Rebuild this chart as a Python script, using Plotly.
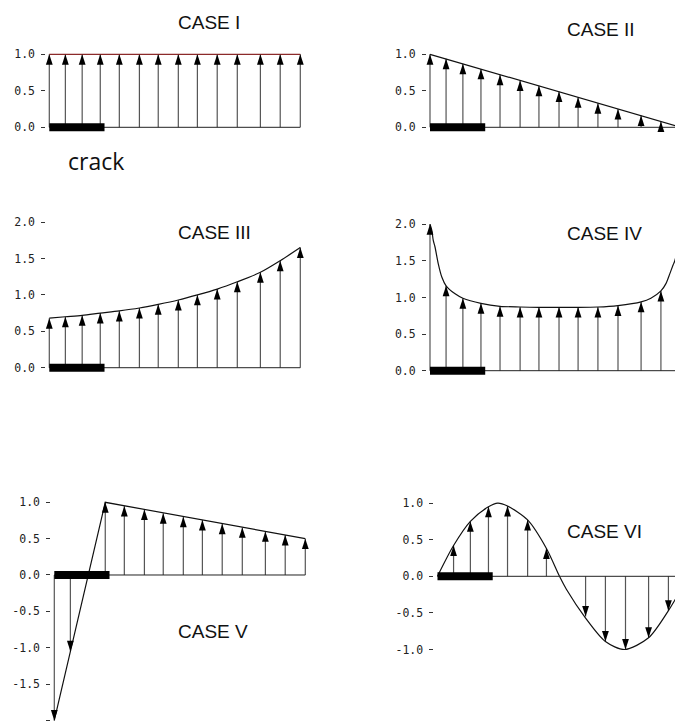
import plotly.graph_objects as go

W, H = 675, 722

# ---------------- data ----------------
# arrow stations along the crack plane (normalised distance)
x_pos = [0.0, 0.064, 0.131, 0.203, 0.279, 0.359, 0.434, 0.514, 0.590, 0.669, 0.749, 0.841, 0.920, 1.0]
crack_len = 0.22

case1_arrows = [1.0, 1.0, 1.0, 1.0, 1.0, 1.0, 1.0, 1.0, 1.0, 1.0, 1.0, 1.0, 1.0, 1.0]
case1_curve_x = [0.0, 1.0]
case1_curve_y = [1.0, 1.0]

case2_arrows = [1.0, 0.94, 0.87, 0.80, 0.72, 0.64, 0.57, 0.49, 0.41, 0.33, 0.25, 0.16, 0.08, 0.0]
case2_curve_x = [0.0, 1.0]
case2_curve_y = [1.0, 0.0]

case3_arrows = [0.68, 0.70, 0.72, 0.75, 0.78, 0.82, 0.87, 0.93, 1.00, 1.08, 1.18, 1.31, 1.47, 1.65]
case3_curve_x = x_pos
case3_curve_y = case3_arrows

case4_arrows = [2.0, 1.16, 0.99, 0.92, 0.88, 0.87, 0.87, 0.87, 0.87, 0.87, 0.89, 0.94, 1.09, 2.0]
case4_curve_x = [0.0, 0.007, 0.013, 0.02, 0.033, 0.047, 0.064, 0.1, 0.131, 0.203, 0.279, 0.359,
                 0.434, 0.514, 0.59, 0.669, 0.749, 0.841, 0.88, 0.92, 0.94, 0.956, 0.968, 0.976,
                 0.99, 1.0]
case4_curve_y = [2.0, 1.92, 1.78, 1.69, 1.46, 1.28, 1.16, 1.05, 0.99, 0.92, 0.88, 0.87,
                 0.865, 0.865, 0.865, 0.87, 0.89, 0.94, 0.99, 1.09, 1.19, 1.33, 1.44, 1.51,
                 1.75, 2.0]

case5_arrows = [-2.0, -1.05, None, 1.0, 0.95, 0.90, 0.85, 0.80, 0.755, 0.705, 0.655, 0.60, 0.55, 0.50]
case5_curve_x = [0.0, 0.203, 1.0]
case5_curve_y = [-2.0, 1.0, 0.5]

case6_arrows = [None, 0.42, 0.75, 0.95, 0.96, 0.77, 0.38, None, -0.55, -0.89, -1.0, -0.84, -0.47, None]
case6_curve_x = [0.0, 0.064, 0.131, 0.203, 0.24, 0.279, 0.359, 0.434, 0.486, 0.514, 0.59,
                 0.669, 0.745, 0.841, 0.92, 1.0]
case6_curve_y = [0.0, 0.42, 0.75, 0.95, 1.0, 0.96, 0.77, 0.38, 0.0, -0.18, -0.57,
                 -0.89, -1.0, -0.84, -0.47, 0.0]

titles = ["CASE I", "CASE II", "CASE III", "CASE IV", "CASE V", "CASE VI"]

ticks_01 = [0.0, 0.5, 1.0]
ticks_01_text = ["0.0", "0.5", "1.0"]
ticks_02 = [0.0, 0.5, 1.0, 1.5, 2.0]
ticks_02_text = ["0.0", "0.5", "1.0", "1.5", "2.0"]
ticks_5 = [-2.0, -1.5, -1.0, -0.5, 0.0, 0.5, 1.0]
ticks_5_text = ["-2.0", "-1.5", "-1.0", "-0.5", "0.0", "0.5", "1.0"]
ticks_6 = [-1.0, -0.5, 0.0, 0.5, 1.0]
ticks_6_text = ["-1.0", "-0.5", "0.0", "0.5", "1.0"]

# ---------------- layout geometry (pixels) ----------------
panels = [
    dict(x0=49.3, sx=251, xr=[-0.012, 1.012], y0=127.3, sy=73.0, yr=[-0.16, 1.12]),
    dict(x0=430.0, sx=251, xr=[-0.012, (675 - 430.0) / 251], y0=127.3, sy=73.0, yr=[-0.16, 1.12]),
    dict(x0=49.3, sx=251, xr=[-0.012, 1.012], y0=367.7, sy=72.8, yr=[-0.16, 2.12]),
    dict(x0=430.0, sx=251, xr=[-0.012, (675 - 430.0) / 251], y0=370.7, sy=73.2, yr=[-0.16, 2.12]),
    dict(x0=54.3, sx=251, xr=[-0.012, 1.012], y0=575.0, sy=72.7, yr=[-(722 - 575.0) / 72.7, 1.12]),
    dict(x0=437.5, sx=251, xr=[-0.012, (675 - 437.5) / 251], y0=576.3, sy=73.2, yr=[-1.2, 1.2]),
]

data_sets = [
    (case1_arrows, case1_curve_x, case1_curve_y, "#8c2a2a", False, ticks_01, ticks_01_text),
    (case2_arrows, case2_curve_x, case2_curve_y, "#111111", False, ticks_01, ticks_01_text),
    (case3_arrows, case3_curve_x, case3_curve_y, "#111111", True, ticks_02, ticks_02_text),
    (case4_arrows, case4_curve_x, case4_curve_y, "#111111", True, ticks_02, ticks_02_text),
    (case5_arrows, case5_curve_x, case5_curve_y, "#111111", False, ticks_5, ticks_5_text),
    (case6_arrows, case6_curve_x, case6_curve_y, "#111111", True, ticks_6, ticks_6_text),
]

fig = go.Figure()
layout_axes = {}

for i, (p, ds) in enumerate(zip(panels, data_sets)):
    n = i + 1
    xa = "x" if n == 1 else f"x{n}"
    ya = "y" if n == 1 else f"y{n}"
    arrows, cx, cy, ccol, spline, tv, tt = ds

    px_left = p["x0"] + p["sx"] * p["xr"][0]
    px_right = p["x0"] + p["sx"] * p["xr"][1]
    py_bot = p["y0"] - p["sy"] * p["yr"][0]
    py_top = p["y0"] - p["sy"] * p["yr"][1]
    xdom = [max(0.0, px_left / W), min(1.0, px_right / W)]
    ydom = [max(0.0, 1 - py_bot / H), min(1.0, 1 - py_top / H)]

    layout_axes["xaxis" if n == 1 else f"xaxis{n}"] = dict(
        domain=xdom, range=p["xr"], anchor=ya, visible=False, fixedrange=True)
    layout_axes["yaxis" if n == 1 else f"yaxis{n}"] = dict(
        domain=ydom, range=p["yr"], anchor=xa, showgrid=False, zeroline=False,
        showline=False, ticks="outside", ticklen=4, tickwidth=1, tickcolor="#333333",
        tickvals=tv, ticktext=tt, ticklabelstandoff=4,
        tickfont=dict(family="DejaVu Sans Mono", size=11.5, color="#222222"),
        fixedrange=True)

    sx, sy, hx, hy, ang = [], [], [], [], []
    for x, v in zip(x_pos, arrows):
        if v is None:
            continue
        sx += [x, x, None]
        sy += [0, v, None]
        hx.append(x)
        hy.append(v)
        ang.append(0 if v >= 0 else 180)

    fig.add_trace(go.Scatter(x=sx, y=sy, mode="lines", xaxis=xa, yaxis=ya,
                             line=dict(color="#555555", width=1.2), hoverinfo="skip",
                             showlegend=False))
    fig.add_trace(go.Scatter(x=cx, y=cy, mode="lines", xaxis=xa, yaxis=ya,
                             line=dict(color=ccol, width=1.2,
                                       shape="spline" if spline else "linear",
                                       smoothing=0.8 if spline else None),
                             hoverinfo="skip", showlegend=False))
    fig.add_trace(go.Scatter(x=[x_pos[0], x_pos[-1]], y=[0, 0], mode="lines",
                             xaxis=xa, yaxis=ya, line=dict(color="#222222", width=1),
                             hoverinfo="skip", showlegend=False))
    fig.add_trace(go.Scatter(x=hx, y=hy, mode="markers", xaxis=xa, yaxis=ya,
                             marker=dict(symbol="arrow", size=11, angle=ang, color="#000000",
                                         line=dict(width=0)),
                             hoverinfo="skip", showlegend=False, cliponaxis=False))
    fig.add_trace(go.Scatter(x=[0.0, crack_len], y=[0, 0], mode="lines",
                             xaxis=xa, yaxis=ya, line=dict(color="#000000", width=8),
                             hoverinfo="skip", showlegend=False))

title_pos = [(176.0, 22.7), (565.0, 29.3), (176.0, 232.0), (565.0, 233.3), (176.0, 631.7), (565.0, 531.3)]
annotations = []
for t, (px, py) in zip(titles, title_pos):
    annotations.append(dict(text=t, x=px / W, y=1 - py / H, xref="paper", yref="paper",
                            xanchor="left", yanchor="middle", showarrow=False,
                            font=dict(family="Liberation Sans", size=19, color="#111111")))
annotations.append(dict(text="crack", x=95.5 / W, y=1 - 160.5 / H, xref="paper", yref="paper",
                        xanchor="center", yanchor="middle", showarrow=False,
                        font=dict(family="Open Sans", size=23, color="#111111")))

fig.update_layout(
    width=W, height=H, margin=dict(l=0, r=0, t=0, b=0),
    paper_bgcolor="white", plot_bgcolor="white",
    showlegend=False, annotations=annotations, **layout_axes)

fig.write_html("out.html")
